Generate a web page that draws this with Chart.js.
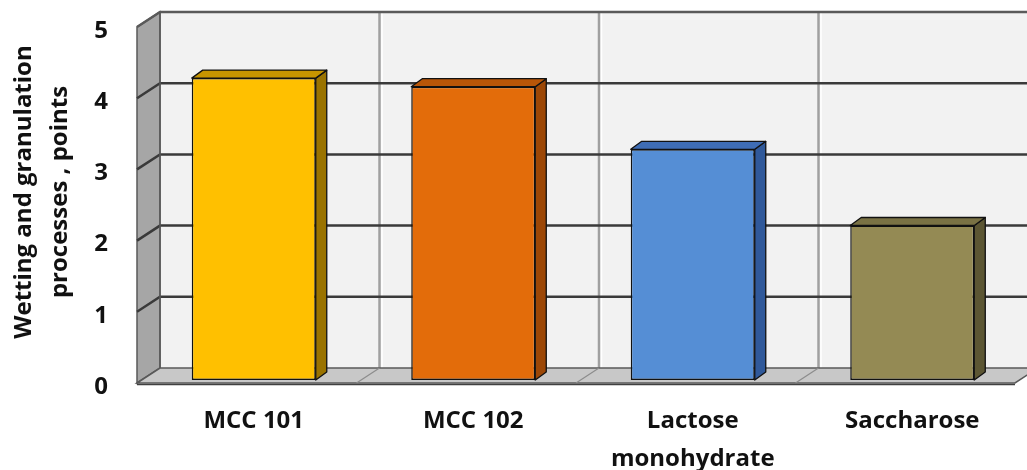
<!DOCTYPE html>
<html lang="en">
<head>
    <meta charset="UTF-8">
    <title>Wetting and granulation processes</title>
    <style>
        body { margin: 0; background: #ffffff; }
        .wrap { width: 1027px; height: 470px; }
    </style>
    <script src="https://cdn.jsdelivr.net/npm/chart.js"></script>
</head>
<body>
    <div class="wrap"><canvas id="scoreChart"></canvas></div>

    <script>
        // values
        const categories = ['MCC 101', 'MCC 102', ['Lactose', 'monohydrate'], 'Saccharose'];
        const scores = [4.24, 4.12, 3.24, 2.17];
        const yTitleLines = ['Wetting and granulation', 'processes , points'];
        const yMin = 0, yMax = 5, yStep = 1;

        const faceColors = ['#FFC000', '#E36C0A', '#558ED5', '#948A54'];
        const sideColors = ['#9A7300', '#9C4706', '#30599A', '#5C5633'];
        const topColors  = ['#C79500', '#B85608', '#3F6DB5', '#7A7244'];

        const FONT = '"Open Sans", Lato, sans-serif';

        // depth offsets relative to the plane the bars stand in
        const BACK = { dx: 16, dy: -12 };
        const FRONT = { dx: -7, dy: 3 };
        const BAR_DEPTH = { dx: 11, dy: -8 };

        function poly(ctx, pts, fill, stroke, lw) {
            ctx.beginPath();
            ctx.moveTo(pts[0][0], pts[0][1]);
            for (let i = 1; i < pts.length; i++) ctx.lineTo(pts[i][0], pts[i][1]);
            ctx.closePath();
            if (fill) { ctx.fillStyle = fill; ctx.fill(); }
            if (stroke) { ctx.strokeStyle = stroke; ctx.lineWidth = lw || 1; ctx.stroke(); }
        }

        const walls3d = {
            id: 'walls3d',
            beforeDatasetsDraw(chart) {
                const ctx = chart.ctx;
                const xs = chart.scales.x, ys = chart.scales.y;
                const L = xs.left, R = xs.right;
                const y0 = ys.getPixelForValue(yMin), yTop = ys.getPixelForValue(yMax);
                ctx.save();

                // back wall
                poly(ctx, [[L + BACK.dx, yTop + BACK.dy], [R + BACK.dx, yTop + BACK.dy],
                           [R + BACK.dx, y0 + BACK.dy], [L + BACK.dx, y0 + BACK.dy]], '#F2F2F2', null);

                // left side wall
                poly(ctx, [[L + FRONT.dx, yTop + FRONT.dy], [L + BACK.dx, yTop + BACK.dy],
                           [L + BACK.dx, y0 + BACK.dy], [L + FRONT.dx, y0 + FRONT.dy]], '#A6A6A6', '#595959', 1.5);

                // vertical grid lines between categories
                for (let i = 1; i <= categories.length; i++) {
                    const xb = (xs.getPixelForValue(i - 1) + xs.getPixelForValue(i)) / 2 + BACK.dx;
                    ctx.beginPath();
                    ctx.moveTo(xb, yTop + BACK.dy);
                    ctx.lineTo(xb, y0 + BACK.dy);
                    ctx.strokeStyle = '#A0A0A0'; ctx.lineWidth = 2.5; ctx.stroke();
                    ctx.beginPath();
                    ctx.moveTo(xb + 2.5, yTop + BACK.dy);
                    ctx.lineTo(xb + 2.5, y0 + BACK.dy);
                    ctx.strokeStyle = '#FFFFFF'; ctx.lineWidth = 1.5; ctx.stroke();
                }

                // horizontal grid lines on back wall and side wall
                for (let v = yMin + yStep; v <= yMax; v += yStep) {
                    const y = ys.getPixelForValue(v);
                    ctx.beginPath();
                    ctx.moveTo(L + FRONT.dx, y + FRONT.dy);
                    ctx.lineTo(L + BACK.dx, y + BACK.dy);
                    ctx.lineTo(R + BACK.dx, y + BACK.dy);
                    ctx.strokeStyle = v === yMax ? '#5A5A5A' : '#3A3A3A';
                    ctx.lineWidth = 2.5;
                    ctx.stroke();
                }

                // left edge of back wall
                ctx.beginPath();
                ctx.moveTo(L + BACK.dx, yTop + BACK.dy);
                ctx.lineTo(L + BACK.dx, y0 + BACK.dy);
                ctx.strokeStyle = '#595959'; ctx.lineWidth = 1.5; ctx.stroke();

                // floor
                poly(ctx, [[L + FRONT.dx, y0 + FRONT.dy], [L + BACK.dx, y0 + BACK.dy],
                           [R + BACK.dx, y0 + BACK.dy], [R + FRONT.dx, y0 + FRONT.dy]], '#C8C8C8', '#595959', 1.5);
                for (let i = 1; i < categories.length; i++) {
                    const xb = (xs.getPixelForValue(i - 1) + xs.getPixelForValue(i)) / 2;
                    ctx.beginPath();
                    ctx.moveTo(xb + BACK.dx, y0 + BACK.dy);
                    ctx.lineTo(xb + FRONT.dx, y0 + FRONT.dy);
                    ctx.strokeStyle = '#8C8C8C'; ctx.lineWidth = 1.2; ctx.stroke();
                }
                ctx.beginPath();
                ctx.moveTo(L + FRONT.dx, y0 + FRONT.dy + 1.5);
                ctx.lineTo(R + FRONT.dx, y0 + FRONT.dy + 1.5);
                ctx.strokeStyle = '#404040'; ctx.lineWidth = 1.5; ctx.stroke();

                // axis title
                ctx.fillStyle = '#111111';
                ctx.font = 'bold 24px ' + FONT;
                ctx.textAlign = 'center';
                ctx.textBaseline = 'alphabetic';
                ctx.translate(31, 192);
                ctx.rotate(-Math.PI / 2);
                yTitleLines.forEach((line, i) => ctx.fillText(line, 0, i * 36));
                ctx.restore();
            },
            afterDatasetsDraw(chart) {
                const ctx = chart.ctx;
                const meta = chart.getDatasetMeta(0);
                ctx.save();
                ctx.lineJoin = 'round';
                meta.data.forEach((bar, i) => {
                    const p = bar.getProps(['x', 'y', 'base', 'width'], true);
                    const left = p.x - p.width / 2, right = p.x + p.width / 2;
                    const dx = BAR_DEPTH.dx, dy = BAR_DEPTH.dy;
                    poly(ctx, [[right, p.y], [right + dx, p.y + dy], [right + dx, p.base + dy], [right, p.base]],
                         sideColors[i], '#111111', 1.3);
                    poly(ctx, [[left, p.y], [left + dx, p.y + dy], [right + dx, p.y + dy], [right, p.y]],
                         topColors[i], '#111111', 1.3);
                });
                ctx.restore();
            }
        };

        new Chart(document.getElementById('scoreChart'), {
            type: 'bar',
            data: {
                labels: categories,
                datasets: [{
                    data: scores,
                    backgroundColor: faceColors,
                    borderColor: '#111111',
                    borderWidth: 1.5,
                    borderSkipped: false,
                    barPercentage: 0.565,
                    categoryPercentage: 1
                }]
            },
            options: {
                responsive: true,
                maintainAspectRatio: false,
                animation: false,
                layout: { padding: { top: 24, right: 5, left: 0, bottom: 0 } },
                plugins: { legend: { display: false }, tooltip: { enabled: false } },
                scales: {
                    x: {
                        grid: { display: false, drawTicks: false },
                        border: { display: false },
                        ticks: {
                            color: '#111111',
                            padding: 23,
                            font: { family: FONT, size: 24, weight: 'bold', lineHeight: 1.55 }
                        },
                        afterFit(scale) { scale.height = 90; }
                    },
                    y: {
                        min: yMin,
                        max: yMax,
                        grid: { display: false, drawTicks: false },
                        border: { display: false },
                        ticks: {
                            stepSize: yStep,
                            color: '#111111',
                            padding: 36,
                            labelOffset: 7,
                            font: { family: FONT, size: 24, weight: 'bold' }
                        },
                        afterFit(scale) {
                            scale.width = 144;
                            scale.paddingTop = 0;
                            scale.paddingBottom = 0;
                        }
                    }
                }
            },
            plugins: [walls3d]
        });
    </script>
</body>
</html>
